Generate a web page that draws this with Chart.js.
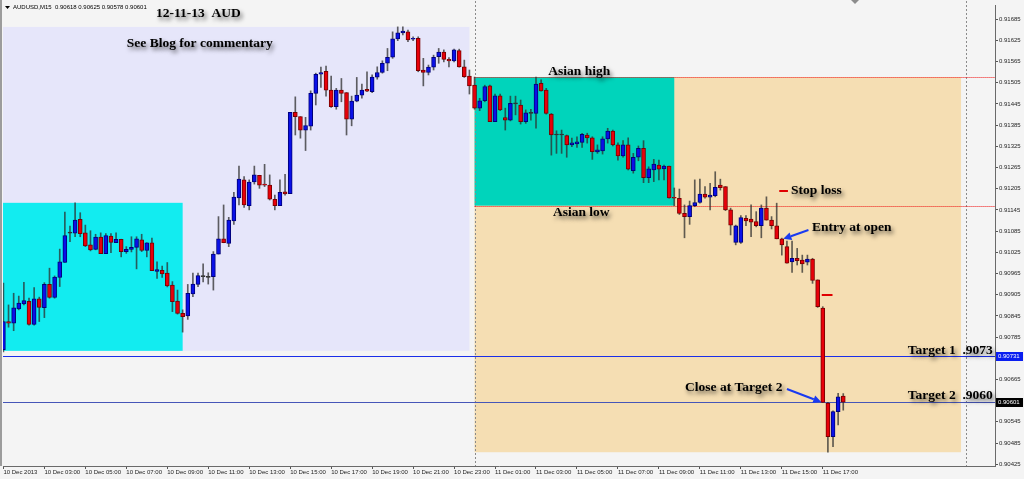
<!DOCTYPE html>
<html>
<head>
<meta charset="utf-8">
<script src="https://cdn.jsdelivr.net/npm/chart.js@4.4.1/dist/chart.umd.min.js"></script>
<style>
  html, body { margin: 0; padding: 0; background: #f4f4f4; overflow: hidden; }
  canvas { display: block; }
</style>
</head>
<body>
<canvas id="chart" width="1024" height="479"></canvas>
<script>
// AUDUSD, 15-minute bars from 10 Dec 2013 01:00 to 11 Dec 2013 18:00
const symbolName = 'AUDUSD,M15';

const opens = [
  0.90749,0.90829,0.90824,0.90865,0.90879,0.90886,0.90821,0.90893,0.90868,0.90934,
  0.90897,0.90954,0.90996,0.91079,0.91079,0.91118,0.91080,0.91046,0.91033,0.91068,
  0.91021,0.91071,0.91052,0.91062,0.91027,0.91033,0.91039,0.91060,0.91030,0.91052,
  0.90971,0.90974,0.90966,0.90932,0.90887,0.90852,0.90845,0.90907,0.90934,0.90956,
  0.90954,0.90956,0.91020,0.91063,0.91050,0.91114,0.91179,0.91230,0.91157,0.91224,
  0.91243,0.91217,0.91215,0.91175,0.91157,0.91196,0.91191,0.91421,0.91409,0.91371,
  0.91382,0.91475,0.91529,0.91537,0.91484,0.91437,0.91484,0.91477,0.91402,0.91453,
  0.91470,0.91486,0.91480,0.91521,0.91534,0.91560,0.91577,0.91629,0.91646,0.91649,
  0.91628,0.91631,0.91541,0.91534,0.91549,0.91579,0.91592,0.91571,0.91567,0.91596,
  0.91550,0.91524,0.91498,0.91433,0.91454,0.91496,0.91395,0.91468,0.91406,0.91399,
  0.91445,0.91442,0.91395,0.91418,0.91418,0.91503,0.91484,0.91416,0.91357,0.91357,
  0.91355,0.91329,0.91332,0.91336,0.91357,0.91349,0.91309,0.91312,0.91346,0.91368,
  0.91329,0.91298,0.91329,0.91256,0.91294,0.91319,0.91236,0.91258,0.91272,0.91261,
  0.91269,0.91179,0.91178,0.91135,0.91126,0.91157,0.91166,0.91190,0.91181,0.91185,
  0.91215,0.91211,0.91145,0.91053,0.91053,0.91121,0.91119,0.91112,0.91100,0.91150,
  0.91116,0.91100,0.91063,0.91041,0.90998,0.91008,0.91003,0.90997,0.91006,0.90947,
  0.90867,0.90598,0.90503,0.90574,0.90618
];
const highs = [
  0.90938,0.90876,0.90909,0.90901,0.90940,0.90895,0.90925,0.90898,0.90939,0.90980,
  0.90958,0.91034,0.91139,0.91099,0.91165,0.91137,0.91102,0.91086,0.91076,0.91080,
  0.91078,0.91078,0.91080,0.91062,0.91041,0.91069,0.91069,0.91076,0.91052,0.91065,
  0.90998,0.90986,0.90996,0.90942,0.90918,0.90862,0.90934,0.90966,0.90966,0.90992,
  0.90967,0.91027,0.91126,0.91159,0.91124,0.91195,0.91269,0.91239,0.91230,0.91269,
  0.91243,0.91274,0.91244,0.91187,0.91230,0.91246,0.91421,0.91465,0.91409,0.91407,
  0.91482,0.91532,0.91549,0.91552,0.91524,0.91489,0.91517,0.91477,0.91467,0.91520,
  0.91501,0.91536,0.91527,0.91550,0.91567,0.91602,0.91649,0.91663,0.91663,0.91654,
  0.91635,0.91635,0.91574,0.91555,0.91583,0.91602,0.91598,0.91576,0.91600,0.91600,
  0.91569,0.91541,0.91521,0.91461,0.91498,0.91498,0.91473,0.91473,0.91433,0.91467,
  0.91467,0.91456,0.91428,0.91430,0.91521,0.91513,0.91489,0.91418,0.91369,0.91371,
  0.91357,0.91348,0.91352,0.91362,0.91362,0.91352,0.91329,0.91352,0.91376,0.91371,
  0.91335,0.91341,0.91349,0.91305,0.91326,0.91341,0.91267,0.91288,0.91286,0.91272,
  0.91269,0.91207,0.91204,0.91159,0.91170,0.91230,0.91232,0.91211,0.91220,0.91253,
  0.91232,0.91211,0.91150,0.91102,0.91129,0.91129,0.91159,0.91140,0.91159,0.91182,
  0.91126,0.91164,0.91065,0.91057,0.91057,0.91036,0.91017,0.91017,0.91008,0.90947,
  0.90871,0.90600,0.90576,0.90626,0.90625
];
const lows = [
  0.90743,0.90813,0.90803,0.90862,0.90876,0.90819,0.90819,0.90829,0.90840,0.90895,
  0.90895,0.90928,0.90996,0.91055,0.91069,0.91069,0.91041,0.91029,0.91032,0.91021,
  0.91021,0.91024,0.91052,0.91012,0.91022,0.91026,0.90978,0.91027,0.91012,0.90973,
  0.90951,0.90954,0.90927,0.90857,0.90850,0.90799,0.90835,0.90899,0.90928,0.90941,
  0.90935,0.90918,0.91020,0.91052,0.91041,0.91104,0.91159,0.91152,0.91145,0.91218,
  0.91206,0.91211,0.91173,0.91145,0.91157,0.91187,0.91191,0.91357,0.91348,0.91313,
  0.91371,0.91442,0.91492,0.91467,0.91435,0.91430,0.91451,0.91357,0.91383,0.91451,
  0.91461,0.91480,0.91477,0.91515,0.91532,0.91539,0.91574,0.91624,0.91640,0.91621,
  0.91624,0.91536,0.91496,0.91527,0.91541,0.91560,0.91564,0.91550,0.91564,0.91549,
  0.91520,0.91473,0.91430,0.91426,0.91451,0.91395,0.91395,0.91426,0.91371,0.91397,
  0.91414,0.91388,0.91390,0.91399,0.91376,0.91481,0.91416,0.91300,0.91305,0.91305,
  0.91294,0.91324,0.91322,0.91322,0.91334,0.91288,0.91305,0.91303,0.91334,0.91326,
  0.91286,0.91294,0.91258,0.91249,0.91284,0.91222,0.91222,0.91225,0.91230,0.91230,
  0.91178,0.91157,0.91132,0.91066,0.91104,0.91154,0.91164,0.91178,0.91145,0.91182,
  0.91201,0.91143,0.91074,0.91046,0.91050,0.91100,0.91069,0.91097,0.91066,0.91116,
  0.91091,0.91063,0.91017,0.90994,0.90968,0.90989,0.90968,0.90989,0.90937,0.90869,
  0.90600,0.90459,0.90475,0.90536,0.90578
];
const closes = [
  0.90829,0.90824,0.90868,0.90881,0.90888,0.90821,0.90893,0.90869,0.90934,0.90897,
  0.90955,0.90998,0.91072,0.91079,0.91116,0.91078,0.91043,0.91032,0.91068,0.91021,
  0.91072,0.91053,0.91062,0.91027,0.91033,0.91039,0.91063,0.91030,0.91052,0.90973,
  0.90976,0.90964,0.90930,0.90885,0.90852,0.90843,0.90909,0.90935,0.90959,0.90956,
  0.90954,0.91020,0.91063,0.91052,0.91116,0.91181,0.91232,0.91159,0.91224,0.91244,
  0.91215,0.91215,0.91175,0.91157,0.91195,0.91190,0.91421,0.91409,0.91371,0.91384,
  0.91475,0.91529,0.91534,0.91484,0.91437,0.91484,0.91475,0.91402,0.91453,0.91470,
  0.91484,0.91481,0.91521,0.91534,0.91560,0.91577,0.91629,0.91646,0.91651,0.91626,
  0.91631,0.91539,0.91534,0.91549,0.91577,0.91592,0.91571,0.91567,0.91598,0.91550,
  0.91522,0.91496,0.91433,0.91454,0.91494,0.91395,0.91468,0.91428,0.91399,0.91447,
  0.91445,0.91395,0.91420,0.91418,0.91501,0.91482,0.91418,0.91357,0.91357,0.91357,
  0.91329,0.91335,0.91338,0.91359,0.91349,0.91310,0.91315,0.91346,0.91368,0.91329,
  0.91298,0.91329,0.91260,0.91294,0.91319,0.91236,0.91261,0.91275,0.91260,0.91269,
  0.91179,0.91178,0.91135,0.91126,0.91157,0.91166,0.91190,0.91181,0.91187,0.91209,
  0.91208,0.91145,0.91102,0.91100,0.91123,0.91114,0.91110,0.91100,0.91150,0.91116,
  0.91100,0.91063,0.91046,0.90994,0.91008,0.91001,0.90992,0.91006,0.90945,0.90871,
  0.90600,0.90503,0.90574,0.90616,0.90601
];

// time axis: one label every 8 bars (2 hours)
const timeTickBars = [0,8,16,24,32,40,48,56,64,72,80,88,96,104,112,120,128,136,144,152,160];
const timeTickLabels = [
  '10 Dec 2013','10 Dec 03:00','10 Dec 05:00','10 Dec 07:00','10 Dec 09:00','10 Dec 11:00',
  '10 Dec 13:00','10 Dec 15:00','10 Dec 17:00','10 Dec 19:00','10 Dec 21:00','10 Dec 23:00',
  '11 Dec 01:00','11 Dec 03:00','11 Dec 05:00','11 Dec 07:00','11 Dec 09:00','11 Dec 11:00',
  '11 Dec 13:00','11 Dec 15:00','11 Dec 17:00'
];
// price axis ticks
const priceTicks = [
  0.91685,0.91625,0.91565,0.91505,0.91445,0.91385,0.91325,0.91265,0.91205,0.91145,0.91085,
  0.91025,0.90965,0.90905,0.90845,0.90785,0.90725,0.90665,0.90605,0.90545,0.90485,0.90425
];

// session ranges: [firstBar, lastBar, low, high]
const rangeDay10 = [-2, 91, 0.90746, 0.91663];
const rangeAsia10 = [-2, 35, 0.90746, 0.91165];
const rangeDay11 = [92, 187, 0.90459, 0.91521];
const rangeAsia11 = [92, 131, 0.91157, 0.91521];

// levels
const asianHigh = 0.91521;
const asianLow = 0.91157;
const target1 = 0.90731;
const target2 = 0.90601;
const dayBreakBars = [92, 188];
const stopMarks = [[151.5, 153.2, 0.91199], [159.8, 161.9, 0.90904]];

// text notes: [text, bar, price, align]
const notes = [
  ['12-11-13  AUD', 29.8, 0.91691, 'left'],
  ['See Blog for commentary', 24.1, 0.91606, 'left'],
  ['Asian high', 106.4, 0.91527, 'left'],
  ['Asian low', 107.3, 0.91128, 'left'],
  ['Stop loss', 153.8, 0.91189, 'left'],
  ['Entry at open', 157.9, 0.91085, 'left'],
  ['Close at Target 2', 133.1, 0.90633, 'left'],
  ['Target 1  .9073', 193.2, 0.90737, 'right'],
  ['Target 2  .9060', 193.2, 0.90610, 'right']
];
// arrows: [fromBar, fromPrice, toBar, toPrice]
const arrows = [
  [157.2, 0.91088, 152.3, 0.91063],
  [153.0, 0.90638, 159.7, 0.90601]
];

const BULL = '#0a10e8', BULL_EDGE = '#00007a';
const BEAR = '#e8000a', BEAR_EDGE = '#7a0000';
const DOJI = '#303030';

const idx = opens.map((_, i) => i);
const bodyData = idx.map(i => ({ x: i, y: [opens[i], closes[i]] }));
const wickData = idx.map(i => ({ x: i, y: [lows[i], highs[i]] }));
const bodyFill = idx.map(i => closes[i] > opens[i] ? BULL : (closes[i] < opens[i] ? BEAR : DOJI));
const bodyEdge = idx.map(i => closes[i] > opens[i] ? BULL_EDGE : (closes[i] < opens[i] ? BEAR_EDGE : DOJI));

const backdrop = {
  id: 'backdrop',
  beforeDraw(chart) {
    const c = chart.ctx;
    c.save();
    c.fillStyle = '#f4f4f4';
    c.fillRect(0, 0, chart.width, chart.height);
    c.restore();
  },
  beforeDatasetsDraw(chart) {
    const c = chart.ctx, x = chart.scales.x, y = chart.scales.y, a = chart.chartArea;
    c.save();
    c.beginPath();
    c.rect(a.left, 0, a.right - a.left, a.bottom);
    c.clip();
    const box = (r, color) => {
      const x0 = x.getPixelForValue(r[0]), x1 = x.getPixelForValue(r[1]);
      const y0 = y.getPixelForValue(r[3]), y1 = y.getPixelForValue(r[2]);
      c.fillStyle = color;
      c.fillRect(x0, y0, x1 - x0, y1 - y0);
    };
    box(rangeDay10, '#e6e6fa');
    box(rangeAsia10, '#12ecf0');
    box(rangeDay11, '#f5deb3');
    box(rangeAsia11, '#00d4bb');

    // day separators
    c.strokeStyle = '#8a8a8a';
    c.lineWidth = 1;
    c.setLineDash([2, 2]);
    dayBreakBars.forEach(b => {
      const px = Math.round(x.getPixelForValue(b)) + 0.5;
      c.beginPath(); c.moveTo(px, 1); c.lineTo(px, a.bottom); c.stroke();
    });

    // Asian session high / low
    c.strokeStyle = '#f01010';
    c.setLineDash([1, 1]);
    [asianHigh, asianLow].forEach(p => {
      const py = Math.round(y.getPixelForValue(p)) + 0.5;
      c.beginPath(); c.moveTo(x.getPixelForValue(92), py); c.lineTo(a.right, py); c.stroke();
    });

    // targets
    c.setLineDash([]);
    [[target1, '#1a2ee8'], [target2, '#4656b8']].forEach(([p, col]) => {
      const py = Math.round(y.getPixelForValue(p)) + 0.5;
      c.strokeStyle = col;
      c.beginPath(); c.moveTo(a.left, py); c.lineTo(a.right, py); c.stroke();
    });
    c.restore();
  },
  afterDatasetsDraw(chart) {
    const c = chart.ctx, x = chart.scales.x, y = chart.scales.y;
    c.save();
    // stop-level marks
    c.strokeStyle = '#e00000';
    c.lineWidth = 2;
    stopMarks.forEach(([b0, b1, p]) => {
      const py = Math.round(y.getPixelForValue(p));
      c.beginPath(); c.moveTo(x.getPixelForValue(b0), py); c.lineTo(x.getPixelForValue(b1), py); c.stroke();
    });

    // arrows
    c.strokeStyle = '#1a3af0';
    c.fillStyle = '#1a3af0';
    c.lineWidth = 2;
    arrows.forEach(([b0, p0, b1, p1]) => {
      const x0 = x.getPixelForValue(b0), y0 = y.getPixelForValue(p0);
      const x1 = x.getPixelForValue(b1), y1 = y.getPixelForValue(p1);
      const ang = Math.atan2(y1 - y0, x1 - x0);
      const hl = 8, hw = 4;
      const bx = x1 - hl * Math.cos(ang), by = y1 - hl * Math.sin(ang);
      c.beginPath(); c.moveTo(x0, y0); c.lineTo(bx, by); c.stroke();
      c.beginPath();
      c.moveTo(x1, y1);
      c.lineTo(bx + hw * Math.sin(ang), by - hw * Math.cos(ang));
      c.lineTo(bx - hw * Math.sin(ang), by + hw * Math.cos(ang));
      c.closePath(); c.fill();
    });

    // notes
    c.font = 'bold 13.5px "Liberation Serif", "Times New Roman", serif';
    c.textBaseline = 'alphabetic';
    c.fillStyle = '#000';
    c.shadowColor = 'rgba(0,0,0,0.6)';
    c.shadowBlur = 4;
    c.shadowOffsetX = 2;
    c.shadowOffsetY = 3;
    notes.forEach(([t, b, p, al]) => {
      c.textAlign = al;
      c.fillText(t, x.getPixelForValue(b), y.getPixelForValue(p));
    });
    c.restore();
  },
  afterDraw(chart) {
    const c = chart.ctx, y = chart.scales.y, a = chart.chartArea;
    c.save();
    // window frame on the left
    c.fillStyle = '#9c9c9c';
    c.fillRect(0, 0, 2, a.bottom);

    // symbol line at the top left
    const last = opens.length - 1;
    c.fillStyle = '#000';
    c.beginPath(); c.moveTo(5, 6); c.lineTo(10, 6); c.lineTo(7.5, 9); c.closePath(); c.fill();
    c.font = '6px "Liberation Sans", Arial, sans-serif';
    c.textBaseline = 'middle';
    c.textAlign = 'left';
    c.fillText(symbolName + '  ' + [opens[last], highs[last], lows[last], closes[last]].map(v => v.toFixed(5)).join(' '), 13, 7.5);

    // chart shift marker
    c.fillStyle = '#8c8c8c';
    c.beginPath(); c.moveTo(851, 0); c.lineTo(859, 0); c.lineTo(855, 4); c.closePath(); c.fill();

    // price markers on the axis
    [[target1, '#0a1ef0'], [closes[last], '#000000']].forEach(([p, col]) => {
      const py = Math.round(y.getPixelForValue(p));
      c.fillStyle = col;
      c.fillRect(a.right + 1, py - 4, 27, 9);
      c.fillStyle = '#ffffff';
      c.font = '6px "Liberation Sans", Arial, sans-serif';
      c.textAlign = 'left';
      c.textBaseline = 'middle';
      c.fillText(p.toFixed(5), a.right + 3, py + 0.5);
    });
    c.restore();
  }
};

new Chart(document.getElementById('chart'), {
  type: 'bar',
  data: {
    datasets: [
      {
        label: 'body',
        data: bodyData,
        backgroundColor: bodyFill,
        borderColor: bodyEdge,
        borderWidth: 1,
        borderSkipped: false,
        barThickness: 4,
        minBarLength: 1,
        grouped: false,
        order: 1
      },
      {
        label: 'wick',
        data: wickData,
        backgroundColor: 'rgba(45,45,45,0.75)',
        borderWidth: 0,
        barThickness: 1,
        grouped: false,
        order: 2
      }
    ]
  },
  options: {
    responsive: false,
    animation: false,
    devicePixelRatio: 1,
    layout: { padding: { left: 3, top: 5, right: 0, bottom: 0 } },
    plugins: { legend: { display: false }, tooltip: { enabled: false } },
    scales: {
      x: {
        type: 'linear',
        min: -0.08,
        max: 193.63,
        offset: false,
        afterBuildTicks: s => { s.ticks = timeTickBars.map(v => ({ value: v })); },
        afterFit: s => { s.height = 13; },
        ticks: {
          autoSkip: false,
          maxRotation: 0,
          minRotation: 0,
          align: 'start',
          padding: 0,
          color: '#1e1e1e',
          font: { family: '"Liberation Sans", Arial, sans-serif', size: 6 },
          callback: (v, i) => timeTickLabels[i]
        },
        grid: { display: true, drawOnChartArea: false, drawTicks: true, tickLength: 3, color: '#555', offset: false },
        border: { display: true, color: '#6a6a6a', width: 1 }
      },
      y: {
        type: 'linear',
        position: 'right',
        min: 0.90420,
        max: 0.91725,
        afterBuildTicks: s => { s.ticks = priceTicks.map(v => ({ value: v })); },
        afterFit: s => { s.width = 29; },
        ticks: {
          padding: 1,
          color: '#1e1e1e',
          font: { family: '"Liberation Sans", Arial, sans-serif', size: 6 },
          callback: v => Number(v).toFixed(5)
        },
        grid: { display: true, drawOnChartArea: false, drawTicks: true, tickLength: 3, color: '#555' },
        border: { display: true, color: '#6a6a6a', width: 1 }
      }
    }
  },
  plugins: [backdrop]
});
</script>
</body>
</html>
